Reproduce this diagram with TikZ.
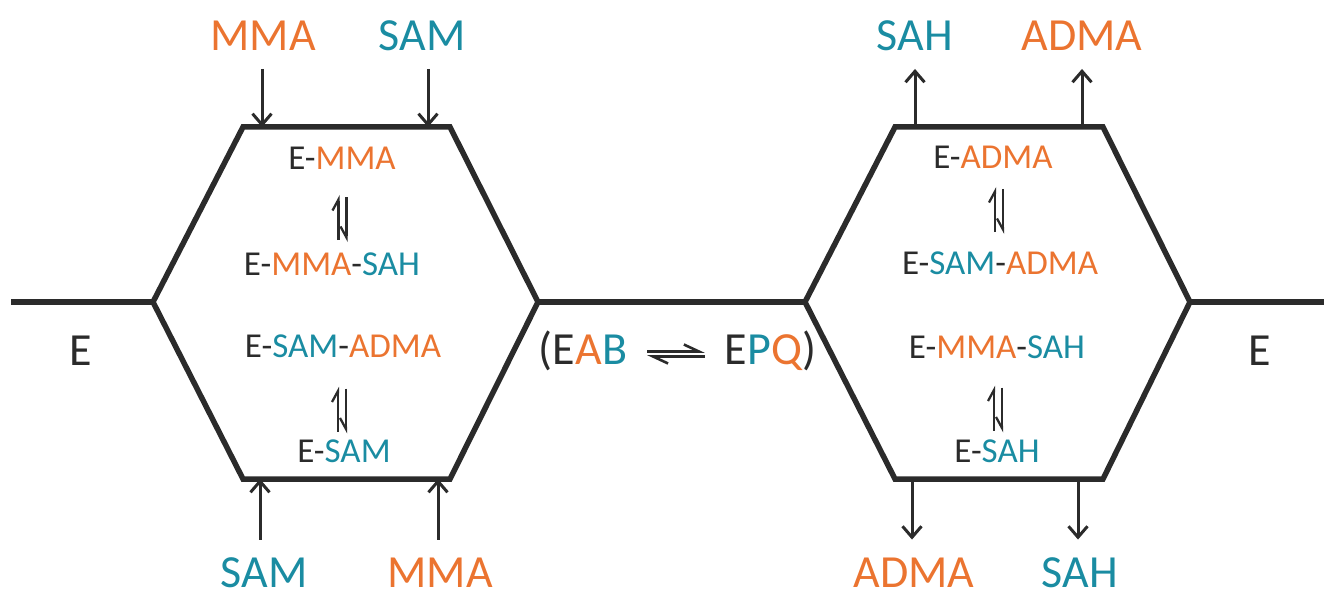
\documentclass[tikz,border=0pt]{standalone}
\usepackage{fontspec}
\setmainfont{Carlito}
\usetikzlibrary{arrows.meta}
\definecolor{ink}{HTML}{2B2B2B}
\definecolor{orng}{HTML}{EB7430}
\definecolor{tealc}{HTML}{1A8CA2}
\newcommand{\clrO}[1]{\textcolor{orng}{#1}}
\newcommand{\clrT}[1]{\textcolor{tealc}{#1}}
\begin{document}
\begin{tikzpicture}[x=1pt,y=-1pt,
  hexline/.style={draw=ink, line width=5.5pt, line join=miter},
  feed/.style={draw=ink, line width=3pt,
    -{Straight Barb[length=11pt,width=19pt,line width=3pt]}},
  big/.style={font=\fontsize{46}{54}\selectfont, text height=29.5pt,
    text depth=0pt, inner sep=0pt, text=ink},
  small/.style={font=\fontsize{35}{40}\selectfont, text height=22.5pt,
    text depth=0pt, inner sep=0pt, text=ink},
  harpL/.style={draw=ink, line width=2.3pt,
    -{Straight Barb[left,length=11pt,width=12pt,line width=2.3pt]}},
  harpR/.style={draw=ink, line width=2.3pt,
    -{Straight Barb[right,length=11pt,width=12pt,line width=2.3pt]}},
  harpH/.style={draw=ink, line width=2.6pt, shorten <=20pt, shorten >=20pt,
    -{Straight Barb[left,length=15pt,width=14pt,line width=2.6pt]}}
]
\useasboundingbox (0,0) rectangle (1324,596);

% vertices of the two cycles
\coordinate (A1) at (153,302);  \coordinate (A2) at (243,127);
\coordinate (A3) at (450,127);  \coordinate (A4) at (538,302);
\coordinate (A5) at (450,479);  \coordinate (A6) at (243,479);
\coordinate (B1) at (805,302);  \coordinate (B2) at (895,127);
\coordinate (B3) at (1103,127); \coordinate (B4) at (1190,302);
\coordinate (B5) at (1103,479); \coordinate (B6) at (895,479);
\coordinate (W)  at (11,302);   \coordinate (Ee) at (1324,302);

% substrate entry / product exit points on the cycles
\coordinate (A2a) at (262,127); \coordinate (A3a) at (428,127);
\coordinate (A6a) at (260,479); \coordinate (A5a) at (438,479);
\coordinate (B2a) at (915,127); \coordinate (B3a) at (1082,127);
\coordinate (B6a) at (912,479); \coordinate (B5a) at (1078,479);

\draw[hexline] (A1)--(A2)--(A3)--(A4)--(A5)--(A6)--cycle;
\draw[hexline] (B1)--(B2)--(B3)--(B4)--(B5)--(B6)--cycle;
\draw[hexline] (W)--(A1);
\draw[hexline] (A4)--(B1);
\draw[hexline] (B4)--(Ee);

% substrates and products
\node[big,text=orng]  (tMMA)  at (263,36)  {MMA};
\node[big,text=tealc] (tSAM)  at (422,36)  {SAM};
\node[big,text=tealc] (bSAM)  at (264,573) {SAM};
\node[big,text=orng]  (bMMA)  at (440,573) {MMA};
\node[big,text=tealc] (tSAH)  at (915,36)  {SAH};
\node[big,text=orng]  (tADMA) at (1082,36) {ADMA};
\node[big,text=orng]  (bADMA) at (914,573) {ADMA};
\node[big,text=tealc] (bSAH)  at (1080,573) {SAH};

\draw[feed, shorten <=18pt] (tMMA.south -| A2a) -- (A2a);
\draw[feed, shorten <=18pt] (tSAM.south -| A3a) -- (A3a);
\draw[feed, shorten <=18.5pt] (bSAM.north -| A6a) -- (A6a);
\draw[feed, shorten <=18.5pt] (bMMA.north -| A5a) -- (A5a);
\draw[feed, shorten >=18pt] (B2a) -- (tSAH.south -| B2a);
\draw[feed, shorten >=18pt] (B3a) -- (tADMA.south -| B3a);
\draw[feed, shorten >=18.5pt] (B6a) -- (bADMA.north -| B6a);
\draw[feed, shorten >=18.5pt] (B5a) -- (bSAH.north -| B5a);

% free enzyme
\node[big] (eL) at (81,351)   {E};
\node[big] (eR) at (1260,351) {E};

% complexes inside the cycles
\node[small] (l1) at (342,158) {E-\clrO{MMA}};
\node[small] (l2) at (332,264) {E-\clrO{MMA}-\clrT{SAH}};
\node[small] (l3) at (343,346) {E-\clrT{SAM}-\clrO{ADMA}};
\node[small] (l4) at (344,451) {E-\clrT{SAM}};
\node[small] (r1) at (993,157)  {E-\clrO{ADMA}};
\node[small] (r2) at (1000,263) {E-\clrT{SAM}-\clrO{ADMA}};
\node[small] (r3) at (997,347)  {E-\clrO{MMA}-\clrT{SAH}};
\node[small] (r4) at (997,451)  {E-\clrT{SAH}};

% vertical equilibrium harpoons
\coordinate (q1) at (342.5,218);
\coordinate (q2) at (342,409.5);
\coordinate (q3) at (999,210);
\coordinate (q4) at (998,408.5);
\foreach \q in {q1,q2,q3,q4}{
  \draw[harpL] ([shift={(-4,22)}]\q) -- ([shift={(-4,-23)}]\q);
  \draw[harpR] ([shift={(4,-21)}]\q) -- ([shift={(4,24)}]\q);
}

% central ternary complex interconversion
\node[big] (eab) at (583,350)   {(E\clrO{A}\clrT{B}};
\node[big] (epq) at (770.5,350) {E\clrT{P}\clrO{Q})};
\draw[harpH] ([yshift=-1.5pt]eab.east) -- ([yshift=-1.5pt]epq.west);
\draw[harpH] ([yshift=-6.5pt]epq.west) -- ([yshift=-6.5pt]eab.east);
\end{tikzpicture}
\end{document}
